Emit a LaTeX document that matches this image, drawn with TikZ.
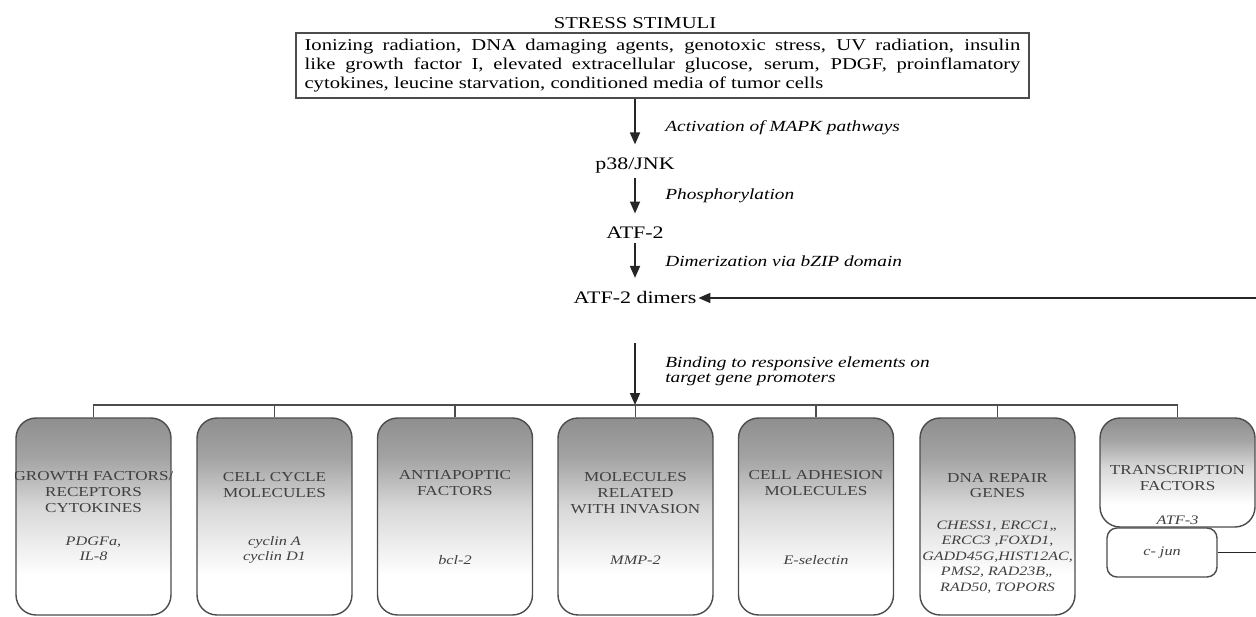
\documentclass[tikz,border=0pt]{standalone}
\usepackage{fontspec}
\setmainfont{Liberation Serif}[FakeStretch=1.25]
\usetikzlibrary{arrows.meta,positioning}

% grey at the top of a tile, fading to white towards its foot
\pgfdeclareverticalshading{tileshade}{100bp}{%
  color(0bp)=(white); color(35bp)=(white); color(52bp)=(black!15);
  color(65bp)=(black!36); color(75bp)=(black!44); color(100bp)=(black!44)}

\begin{document}
\begin{tikzpicture}[x=0.02cm, y=-0.02cm,
    stimbox/.style={
        draw=black!70,
        line width=0.9pt,
        minimum width=14.66cm,
        minimum height=1.3cm,
        inner sep=0pt,
        align=left,
        font=\fontsize{9.4}{10.8}\selectfont
    },
    mol/.style={
        inner xsep=1pt,
        inner ysep=2pt,
        font=\fontsize{10}{11}\selectfont
    },
    act/.style={
        anchor=base west,
        inner sep=0pt,
        align=left,
        font=\fontsize{8.8}{9.1}\selectfont\itshape
    },
    flow/.style={
        -{Triangle[length=2.4mm,width=2mm]},
        line width=1pt,
        black!85
    },
    tile/.style={
        draw=black!70,
        line width=0.8pt,
        rounded corners=0.4cm,
        shade,
        shading=tileshade,
        minimum width=3.1cm,
        minimum height=3.94cm,
        inner sep=0pt
    },
    ttl/.style={
        anchor=base,
        inner sep=0pt,
        align=center,
        text=black!75,
        font=\fontsize{7.8}{9}\selectfont
    },
    gene/.style={
        anchor=base,
        inner sep=0pt,
        align=center,
        text=black!75,
        font=\fontsize{7.4}{8}\selectfont\itshape
    },
    bus/.style={
        draw=black!70,
        line width=0.8pt
    }
]
\useasboundingbox (0,0) rectangle (1256,617);

% stimuli
\node[font=\fontsize{9.4}{10}\selectfont, inner sep=0pt] (head) at (635,23) {STRESS STIMULI};

\node[stimbox] (stim) at (662.5,65.5)
{\makebox[14.32cm][s]{Ionizing radiation, DNA damaging agents, genotoxic stress, UV radiation, insulin}\\
 \makebox[14.32cm][s]{like growth factor I, elevated extracellular glucose, serum, PDGF, proinflamatory}\\
 cytokines, leucine starvation, conditioned media of tumor cells};

% signalling chain
\node[mol, anchor=base] (p38) at (635,170) {p38/JNK};
\node[mol, anchor=base] (atf) at (635,239) {ATF-2};
\node[mol, anchor=base] (dimer) at (635,304) {ATF-2 dimers};

\draw[flow, shorten >=0.2cm] (stim.south -| p38) -- (p38);
\draw[flow, shorten >=0.2cm] (p38) -- (atf);
\draw[flow, shorten >=0.2cm] (atf) -- (dimer);

% base of a multi-line node = its last line
\node[act] (lbact) at (665,132) {Activation of MAPK pathways};
\node[act] (lbpho) at (665,200) {Phosphorylation};
\node[act] (lbdim) at (665,267) {Dimerization via bZIP domain};
\node[act] (lbbind) at (665,383) {Binding to responsive elements on\\target gene promoters};

\coordinate (bindtop) at (635,343);
\coordinate (hub) at (635,405);
\draw[flow] (bindtop) -- (hub);

% target gene tiles
\node[tile] (g1) at (93.5,516.5) {};
\node[tile] (g2) at (274.5,516.5) {};
\node[tile] (g3) at (455,516.5) {};
\node[tile] (g4) at (635.5,516.5) {};
\node[tile] (g5) at (816,516.5) {};
\node[tile] (g6) at (997.5,516.5) {};
\node[tile, minimum height=2.18cm] (g7) at (1177.5,472.5) {};
\node[draw=black!70, line width=0.8pt, rounded corners=0.2cm, fill=white,
      minimum width=2.2cm, minimum height=0.98cm, inner sep=0pt,
      text=black!75, font=\fontsize{7.4}{8}\selectfont\itshape] (cjun) at (1162,552.5) {c- jun};

\draw[bus] (g1.north) -- (g1.north |- hub) -- (g7.north |- hub) -- (g7.north);
\draw[bus] (g2.north) -- (g2.north |- hub);
\draw[bus] (g3.north) -- (g3.north |- hub);
\draw[bus] (g4.north) -- (g4.north |- hub);
\draw[bus] (g5.north) -- (g5.north |- hub);
\draw[bus] (g6.north) -- (g6.north |- hub);

\begin{scope}
\clip (15,418) rectangle (172,615);
\node[ttl] (t1) at (93.5,512) {GROWTH FACTORS/\\RECEPTORS\\CYTOKINES};
\end{scope}
\node[gene] (n1) at (93.5,560) {PDGFa,\\IL-8};

\node[ttl] (t2) at (274.5,497) {CELL CYCLE\\MOLECULES};
\node[gene] (n2) at (274.5,560) {cyclin A\\cyclin D1};

\node[ttl] (t3) at (455,495) {ANTIAPOPTIC\\FACTORS};
\node[gene] (n3) at (455,564) {bcl-2};

\node[ttl] (t4) at (635.5,513) {MOLECULES\\RELATED\\WITH INVASION};
\node[gene] (n4) at (635.5,564) {MMP-2};

\node[ttl] (t5) at (816,495) {CELL ADHESION\\MOLECULES};
\node[gene] (n5) at (816,564) {E-selectin};

\node[ttl] (t6) at (997.5,498) {DNA REPAIR\\GENES};
\node[gene, font=\fontsize{7.3}{8.8}\selectfont\itshape] (n6) at (997.5,591)
{CHESS1, ERCC1,,\\ERCC3 ,FOXD1,\\GADD45G,HIST12AC,\\PMS2, RAD23B,,\\RAD50, TOPORS};

\node[ttl] (t7) at (1177.5,490) {TRANSCRIPTION\\FACTORS};
\node[gene] (n7) at (1177.5,524) {ATF-3};

% feedback from c-jun
\draw[flow] (cjun.east) -- ++(45,0) |- (dimer.east);
\end{tikzpicture}
\end{document}
